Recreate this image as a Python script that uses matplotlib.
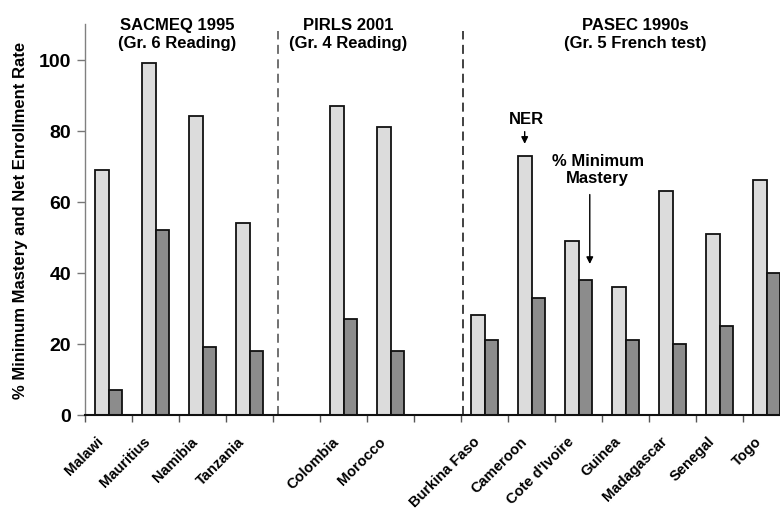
import matplotlib
matplotlib.use("Agg")
import matplotlib.pyplot as plt
import matplotlib.transforms as mtransforms
import numpy as np

plt.rcParams['font.family'] = ['Liberation Sans', 'DejaVu Sans']
plt.rcParams['font.weight'] = 'bold'

countries = ["Malawi", "Mauritius", "Namibia", "Tanzania", "",
             "Colombia", "Morocco", "",
             "Burkina Faso", "Cameroon", "Cote d'Ivoire", "Guinea",
             "Madagascar", "Senegal", "Togo"]
ner = [69, 99, 84, 54, np.nan, 87, 81, np.nan, 28, 73, 49, 36, 63, 51, 66]
mastery = [7, 52, 19, 18, np.nan, 27, 18, np.nan, 21, 33, 38, 21, 20, 25, 40]
group_titles = ["SACMEQ 1995\n(Gr. 6 Reading)", "PIRLS 2001\n(Gr. 4 Reading)",
                "PASEC 1990s\n(Gr. 5 French test)"]
group_title_x = [1.46, 5.1, 11.2]
separators = [3.61, 7.54]
yticks = [0, 20, 40, 60, 80, 100]

fig = plt.figure(figsize=(7.8, 5.1), dpi=100)
ax = fig.add_axes([85/780, 94/510, 705/780, 391/510])

x = np.arange(len(countries))
w = 0.29
ax.bar(x - w/2, ner, width=w, color='#dcdcdc', edgecolor='#111111', linewidth=1.3, zorder=3)
ax.bar(x + w/2, mastery, width=w, color='#8c8c8c', edgecolor='#111111', linewidth=1.3, zorder=3)

ax.set_xlim(-0.5, len(countries) - 0.5)
ax.set_ylim(0, 110)
ax.set_yticks(yticks)
ax.set_yticklabels([str(t) for t in yticks], fontsize=14, fontweight='bold')
ax.set_xticks(x)
ax.set_xticklabels([])
ax.set_xticks(np.arange(-0.5, len(countries), 1.0), minor=True)
ax.tick_params(axis='x', which='major', length=0)
ax.tick_params(axis='x', which='minor', length=5, color='#555555', width=1)
ax.tick_params(axis='y', length=6, color='#777777', width=1, pad=4)

# rotated category labels
lab_trans = ax.get_xaxis_transform() + mtransforms.ScaledTranslation(-0.07, -0.235, fig.dpi_scale_trans)
for xi, name in zip(x, countries):
    ax.text(xi, 0, name, transform=lab_trans, rotation=45, ha='right', va='center',
            rotation_mode='anchor', fontsize=10.5, fontweight='bold', clip_on=False)

for s in ['top', 'right']:
    ax.spines[s].set_visible(False)
ax.spines['left'].set_color('#808080')
ax.spines['left'].set_linewidth(1)
ax.spines['bottom'].set_color('#111111')
ax.spines['bottom'].set_linewidth(1.5)
ax.spines['bottom'].set_zorder(4)

ax.set_ylabel("% Minimum Mastery and Net Enrollment Rate", fontsize=12,
              fontweight='bold', labelpad=8)

for sx, col in zip(separators, ['#666666', '#333333']):
    ax.plot([sx, sx], [0, 108], linestyle=(0, (5, 3)), color=col, linewidth=1.3, zorder=2,
            clip_on=False)

for t, gx in zip(group_titles, group_title_x):
    ax.text(gx, 107.4, t, ha='center', va='center', fontsize=12, fontweight='bold',
            linespacing=1.25, clip_on=False)

# annotations
ax.annotate("", xy=(8.855, 75.5), xytext=(8.855, 80.5),
            arrowprops=dict(arrowstyle='-|>', color='black', lw=1, mutation_scale=10))
ax.text(8.9, 83.4, "NER", ha='center', va='center', fontsize=12, fontweight='bold')
ax.annotate("", xy=(10.24, 41.7), xytext=(10.24, 62.8),
            arrowprops=dict(arrowstyle='-|>', color='black', lw=1, mutation_scale=10))
ax.text(10.41, 69.3, "% Minimum\nMastery", ha='center', va='center', fontsize=12,
        fontweight='bold', linespacing=1.15)

fig.savefig("out.png", dpi=100)
